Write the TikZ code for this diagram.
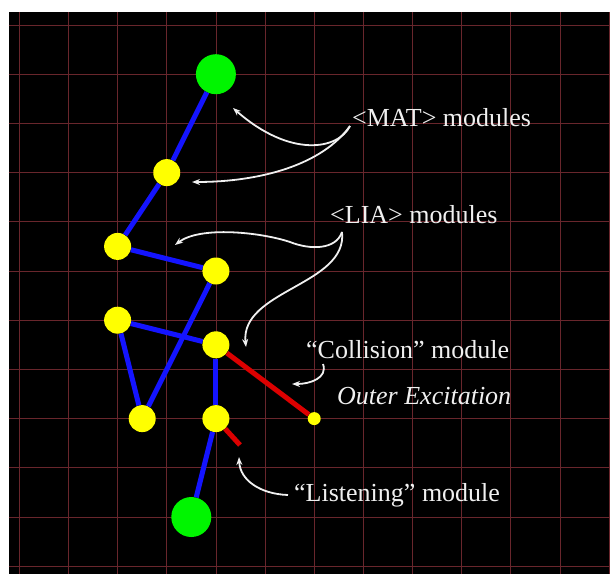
\documentclass[tikz,border=0pt]{standalone}
\usepackage{fontspec}
\setmainfont{Liberation Serif}
\usetikzlibrary{arrows.meta}
\definecolor{gridc}{RGB}{105,38,44}
\definecolor{nblue}{RGB}{20,20,255}
\definecolor{nyel}{RGB}{255,255,0}
\definecolor{ngreen}{RGB}{0,245,0}
\definecolor{nred}{RGB}{220,0,0}
\definecolor{txt}{RGB}{240,240,240}
\begin{document}
\begin{tikzpicture}[x=1pt,y=-1pt,
  big/.style={circle,fill=ngreen,minimum size=40pt,inner sep=0},
  mid/.style={circle,fill=nyel,minimum size=27pt,inner sep=0},
  tiny/.style={circle,fill=nyel,minimum size=13pt,inner sep=0},
  bar/.style={nblue,line width=5pt},
  rbar/.style={nred,line width=5pt},
  callout/.style={txt,line width=1.8pt,-{Stealth[length=8pt,width=6pt]}},
  lbl/.style={text=txt,font=\fontsize{26}{30}\selectfont,inner sep=0,anchor=base west},
  gridline/.style={gridc,line width=0.8pt}]
\useasboundingbox (0,0) rectangle (610,574);
\fill[white] (0,0) rectangle (610,574);
\fill[black] (8.5,12) rectangle (610,574);
\begin{scope}
\clip (8.5,12) rectangle (610,574);
\foreach \k in {0,...,12} \draw[gridline] ({19.3+49.15*\k},12) -- ({19.3+49.15*\k},574);
\foreach \k in {0,...,11} \draw[gridline] (8.5,{25+49.2*\k}) -- (610,{25+49.2*\k});
\end{scope}

% nodes
\node[big] (g1) at (215.9,74.2) {};
\node[mid] (y1) at (166.75,172.6) {};
\node[mid] (y2) at (117.6,246.4) {};
\node[mid] (y3) at (215.9,271) {};
\node[mid] (y4) at (117.6,320.2) {};
\node[mid] (y5) at (215.9,344.8) {};
\node[mid] (y6) at (142.2,418.6) {};
\node[mid] (y7) at (215.9,418.6) {};
\node[big] (g2) at (191.3,517) {};
\node[tiny] (ex) at (314.2,418.6) {};
\coordinate (stub) at (240,445);

% blue links
\draw[bar] (g1) -- (y1);
\draw[bar] (y1) -- (y2);
\draw[bar] (y2) -- (y3);
\draw[bar] (y3) -- (y6);
\draw[bar] (y4) -- (y5);
\draw[bar] (y4) -- (y6);
\draw[bar] (y5) -- (y7);
\draw[bar] (y7) -- (g2);
% red links
\draw[rbar] (y5) -- (ex);
\draw[rbar] (y7) -- (stub);

% labels
\node[lbl] (mat) at (352,126) {<MAT> modules};
\node[lbl] (lia) at (330,223) {<LIA> modules};
\node[lbl] (col) at (306,358) {“Collision” module};
\node[lbl,font=\fontsize{26}{30}\selectfont\itshape] (outer) at (337,404) {Outer Excitation};
\node[lbl] (lis) at (294,501) {“Listening” module};

% callout arrows
\coordinate (matA) at (350,126);
\coordinate (matB) at (233,108);
\coordinate (matC) at (192,182);
\draw[callout] (matA) .. controls (338,150) and (290,158) .. (matB);
\draw[callout] (matA) .. controls (322,165) and (260,182) .. (matC);

\coordinate (liaA) at (342,232);
\coordinate (liaM) at (290,242);
\coordinate (liaB) at (175,245);
\coordinate (liaC) at (246,347);
\draw[callout] (liaA) .. controls (336,250) and (310,250) .. (liaM) .. controls (260,232) and (200,226) .. (liaB);
\draw[callout] (liaA) .. controls (348,285) and (240,290) .. (liaC);

\coordinate (colA) at (323,364);
\coordinate (colB) at (292,384);
\draw[callout] (colA) .. controls (328,378) and (310,384) .. (colB);

\coordinate (lisA) at (288,495);
\coordinate (lisB) at (239,457);
\draw[callout] (lisA) .. controls (260,494) and (240,480) .. (lisB);
\end{tikzpicture}
\end{document}
